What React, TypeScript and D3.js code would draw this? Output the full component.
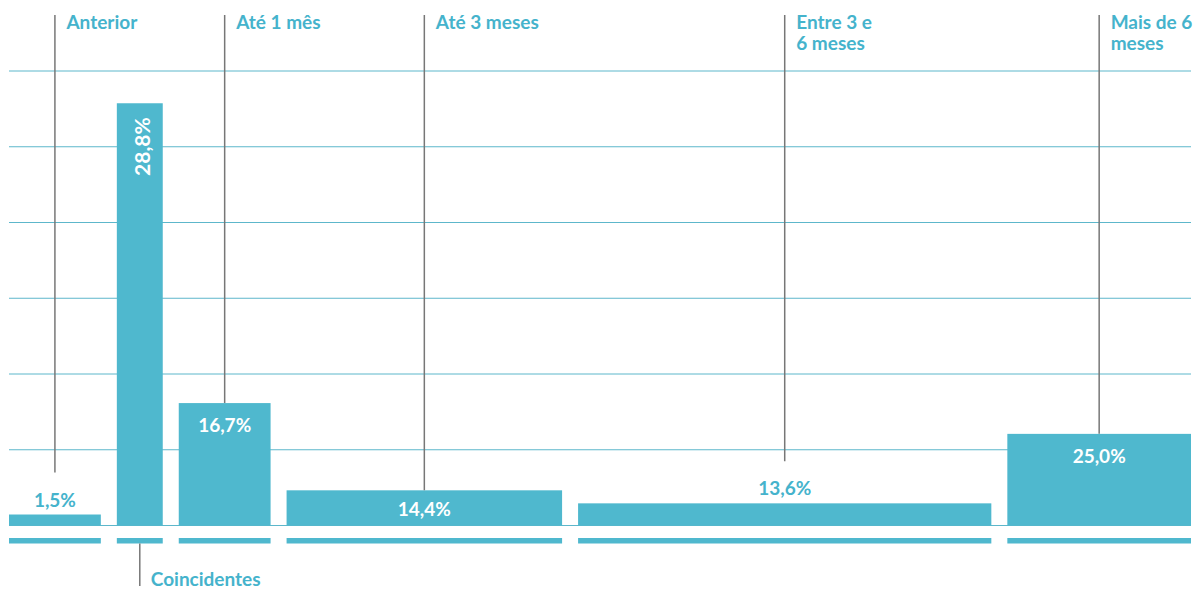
import React from "react";
import * as d3 from "d3";

// ---- data ----
const categories: string[] = ["Anterior", "Coincidentes", "Até 1 mês", "Até 3 meses", "Entre 3 e 6 meses", "Mais de 6 meses"];
const categoryLines: string[][] = [["Anterior"], ["Coincidentes"], ["Até 1 mês"], ["Até 3 meses"], ["Entre 3 e", "6 meses"], ["Mais de 6", "meses"]];
const values: number[] = [1.5, 28.8, 16.7, 14.4, 13.6, 25.0];
const valueLabels: string[] = ["1,5%", "28,8%", "16,7%", "14,4%", "13,6%", "25,0%"];
// relative interval width of each class (histogram, area ~ share)
const intervalWidths: number[] = [1, 0.5, 1, 3, 4.5, 2];
const yMax = 62;
const gridCount = 6;

const W = 1195;
const H = 590;
const TEAL = "#4FB8CE";
const TEAL_TEXT = "#45B3CC";
const GRID = "#5DB7CB";
const LINE = "#777777";
const FONT = "Lato, 'Open Sans', sans-serif";
const FS = 19;

export default function App() {
  const left = 9;
  const right = 1191;
  const base = 525.5;
  const top = 71;
  const gap = 16;

  const totalUnits = d3.sum(intervalWidths);
  const unitScale = d3.scaleLinear().domain([0, totalUnits]).range([0, right - left - gap * (values.length - 1)]);
  const y = d3.scaleLinear().domain([0, yMax]).range([base, top]);

  const cum = d3.cumsum(intervalWidths);
  const bars = values.map((v, i) => {
    const startUnits = i === 0 ? 0 : cum[i - 1];
    const x0 = left + unitScale(startUnits) + gap * i;
    const w = unitScale(intervalWidths[i]);
    const density = v / intervalWidths[i];
    const yt = y(density);
    return { i, v, x0, w, cx: x0 + w / 2, yt, h: base - yt };
  });

  const grid = d3.range(1, gridCount + 1).map((k) => (yMax * k) / gridCount);

  return (
    <svg width={W} height={H} style={{ position: "absolute", left: 0, top: 0, background: "#fff" }} fontFamily={FONT}>
      {/* gridlines */}
      {grid.map((g, k) => (
        <line key={"g" + k} x1={left} x2={right} y1={y(g)} y2={y(g)} stroke={GRID} strokeWidth={1} />
      ))}
      {/* baseline */}
      <line x1={left} x2={right} y1={base} y2={base} stroke={GRID} strokeWidth={1} />

      {bars.map((b) => {
        const narrow = b.w < 60;
        const outside = b.h < 30;
        let labelEl: React.ReactNode;
        let lineEnd = b.yt;
        if (narrow) {
          labelEl = (
            <text
              transform={`translate(${b.cx + 2},${b.yt + 14}) rotate(-90)`}
              textAnchor="end"
              dominantBaseline="central"
              fill="#fff"
              fontSize={21}
              fontWeight={700}
            >
              {valueLabels[b.i]}
            </text>
          );
        } else if (outside) {
          const by = b.yt - 8;
          lineEnd = by - 14 - 20;
          labelEl = (
            <text x={b.cx} y={by} textAnchor="middle" fill={TEAL_TEXT} fontSize={FS} fontWeight={700}>
              {valueLabels[b.i]}
            </text>
          );
        } else {
          const by = b.h > 60 ? b.yt + 29 : b.yt + b.h / 2 + 8.5;
          labelEl = (
            <text x={b.cx} y={by} textAnchor="middle" fill="#fff" fontSize={FS} fontWeight={700}>
              {valueLabels[b.i]}
            </text>
          );
        }
        return (
          <g key={"b" + b.i}>
            <rect x={b.x0} y={b.yt} width={b.w} height={b.h} fill={TEAL} />
            <rect x={b.x0} y={538} width={b.w} height={5.5} fill={TEAL} />
            {labelEl}
            {narrow ? (
              <g>
                <line x1={b.cx} x2={b.cx} y1={543.5} y2={586} stroke={LINE} strokeWidth={1.5} />
                <text x={b.cx + 11} y={586} fill={TEAL_TEXT} fontSize={FS} fontWeight={700}>
                  {categories[b.i]}
                </text>
              </g>
            ) : (
              <g>
                <line x1={b.cx} x2={b.cx} y1={15} y2={lineEnd} stroke={LINE} strokeWidth={1.5} />
                {categoryLines[b.i].map((t, j) => (
                  <text key={j} x={b.cx + 11.5} y={29 + j * 21} fill={TEAL_TEXT} fontSize={FS} fontWeight={700}>
                    {t}
                  </text>
                ))}
              </g>
            )}
          </g>
        );
      })}
    </svg>
  );
}
